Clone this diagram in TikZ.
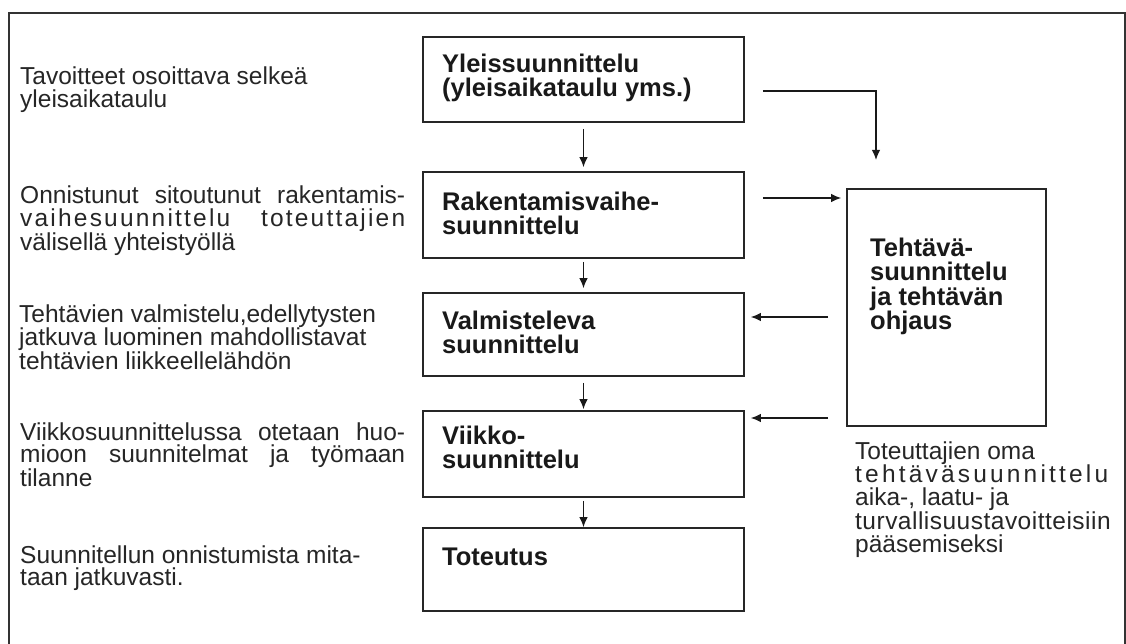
\documentclass[tikz,border=0pt]{standalone}
\usepackage{fontspec}
\setmainfont{Liberation Sans}
\usetikzlibrary{arrows.meta,calc}
\begin{document}
\begin{tikzpicture}[x=1pt,y=-1pt,
  box/.style={draw=black!85, line width=1.6pt, inner sep=0pt, minimum width=321pt},
  arr/.style={draw=black!90, line width=1.4pt, -{Latex[length=10pt,width=8.5pt]}},
  btxt/.style={anchor=base west, inner sep=0pt, text=black!90, font=\bfseries\fontsize{25.5}{24}\selectfont},
  ltxt/.style={anchor=base west, inner sep=0pt, text=black!85, font=\fontsize{24.5}{22.8}\selectfont},
]
\useasboundingbox (0,0) rectangle (1126,644);
\fill[white] (0,0) rectangle (1126,644);
% outer frame
\draw[black!80, line width=1.3pt] (9,644) -- (9,13) -- (1125,13) -- (1125,644);

% central boxes
\node[box, minimum height=85pt] (b1) at (583.5,79.5) {};
\node[box, minimum height=86pt] (b2) at (583.5,215) {};
\node[box, minimum height=83pt] (b3) at (583.5,334.5) {};
\node[box, minimum height=86pt] (b4) at (583.5,454) {};
\node[box, minimum height=83pt] (b5) at (583.5,569.5) {};
% right box
\node[box, minimum width=199pt, minimum height=237pt] (rb) at (946.5,307.5) {};

% box texts
\node[btxt] (t1) at (442,73) {\parbox[t]{300pt}{Yleissuunnittelu\\(yleisaikataulu yms.)}};
\node[btxt] (t2) at (442,211) {\parbox[t]{300pt}{Rakentamisvaihe-\\suunnittelu}};
\node[btxt] (t3) at (442,329) {\parbox[t]{300pt}{Valmisteleva\\suunnittelu}};
\node[btxt] (t4) at (442,444) {\parbox[t]{300pt}{Viikko-\\suunnittelu}};
\node[btxt] (t5) at (442,565) {Toteutus};
\node[btxt] (t6) at (870,257) {\parbox[t]{170pt}{Tehtävä-\\suunnittelu\\ja tehtävän\\ohjaus}};

% left texts
\node[ltxt] (l1) at (20,85) {\parbox[t]{385pt}{Tavoitteet osoittava selkeä\\yleisaikataulu}};
\node[ltxt] (l2) at (20,204) {\parbox[t]{385pt}{\makebox[385pt][s]{Onnistunut sitoutunut rakentamis-}\\
  \makebox[385pt][s]{\addfontfeature{LetterSpace=9}vaihesuunnittelu toteuttajien}\\
  välisellä yhteistyöllä}};
\node[ltxt] (l3) at (19,322) {\parbox[t]{385pt}{Tehtävien valmistelu,edellytysten\\jatkuva luominen mahdollistavat\\tehtävien liikkeellelähdön}};
\node[ltxt] (l4) at (20,440) {\parbox[t]{385pt}{\makebox[385pt][s]{Viikkosuunnittelussa otetaan huo-}\\
  \makebox[385pt][s]{mioon suunnitelmat ja työmaan}\\
  tilanne}};
\node[ltxt] (l5) at (20,563) {\parbox[t]{385pt}{Suunnitellun onnistumista mita-\\taan jatkuvasti.}};

% bottom right text
\node[ltxt] (r1) at (855,459) {\parbox[t]{265pt}{Toteuttajien oma\\
  {\addfontfeature{LetterSpace=13}tehtäväsuunnittelu}\\
  aika-, laatu- ja\\
  {\addfontfeature{LetterSpace=2}turvallisuustavoitteisiin}\\
  pääsemiseksi}};

% vertical arrows
\draw[arr, shorten <=6pt, shorten >=4pt] (b1) -- (b2);
\draw[arr, shorten <=3pt, shorten >=4pt] (b2) -- (b3);
\draw[arr, shorten <=6pt, shorten >=1pt] (b3) -- (b4);
\draw[arr, shorten <=3pt, shorten >=0pt] (b4) -- (b5);

% right-side connectors
\coordinate (c1) at (876,160);
\draw[arr] ($(b1.east)+(18,11.5)$) -| (c1);
\draw[arr, shorten >=5pt] ($(b2.east)+(18,-17)$) -- ($(b2.east -| rb.west)+(0,-17)$);
\draw[arr, shorten >=6pt] ($(b3.east -| rb.west)+(-18,-17.5)$) -- ($(b3.east)+(0,-17.5)$);
\draw[arr, shorten >=6pt] ($(b4.east -| rb.west)+(-18,-36)$) -- ($(b4.east)+(0,-36)$);
\end{tikzpicture}
\end{document}
